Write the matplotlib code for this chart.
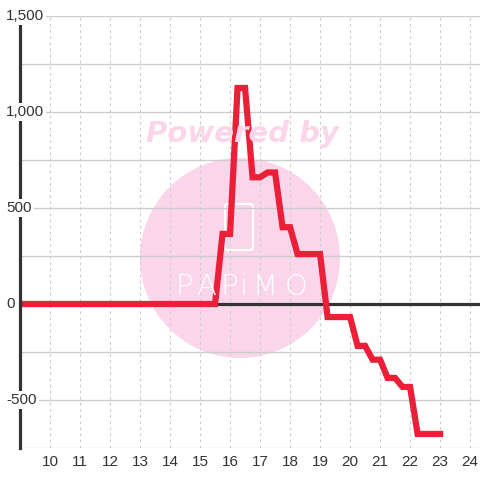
import matplotlib
matplotlib.use("Agg")
import matplotlib.pyplot as plt
from matplotlib.patches import Circle, FancyBboxPatch
from matplotlib.transforms import blended_transform_factory

# breakpoints of the series (hour of day, value)
hours = [9.0, 15.5, 15.75, 16.0, 16.25, 16.5, 16.75, 17.0, 17.25, 17.5, 17.75,
         18.0, 18.25, 19.0, 19.25, 20.0, 20.25, 20.5, 20.75, 21.0, 21.25,
         21.5, 21.75, 22.0, 22.25, 23.0]
values = [0, 0, 365, 365, 1125, 1125, 660, 660, 685, 685, 400,
          400, 260, 260, -68, -68, -218, -218, -290, -290, -385,
          -385, -432, -432, -677, -677]

x_ticks = list(range(10, 25))
y_labels = [1500, 1000, 500, 0, -500]
y_grid = [1250, 750, 250, -250, -750]

LINE_RED = "#ec1f38"
PINK = "#fbd6ea"
DARK = "#333333"

plt.rcParams['font.family'] = ['Liberation Sans', 'DejaVu Sans']

fig = plt.figure(figsize=(4.8, 4.8), dpi=100)
ax = fig.add_axes([20 / 480, 32 / 480, 460 / 480, 432 / 480])
ax.set_xlim(9.0, 24.33)
ax.set_ylim(-750, 1500)

# watermark
circ = Circle((240 / 480, 1 - 258 / 480), 100 / 480, transform=fig.transFigure,
              facecolor=PINK, edgecolor="none", zorder=0.2)
ax.add_patch(circ)
phone = FancyBboxPatch((225 / 480, 1 - 250 / 480), 28 / 480, 46 / 480,
                       boxstyle="round,pad=0,rounding_size=0.006",
                       transform=fig.transFigure, facecolor="none",
                       edgecolor="white", linewidth=1.5, zorder=0.3)
ax.add_patch(phone)
for ch, px in zip("PAPiMO", [184, 206, 229, 244, 265, 296]):
    fig.text(px / 480, 1 - 287 / 480, ch, color="white", fontsize=21,
             family="DejaVu Sans", weight="light", ha="center", va="center",
             zorder=0.3)
fig.text(242 / 480, 1 - 134 / 480, "Powered by", color=PINK, fontsize=21,
         weight="bold", style="italic", ha="center", va="center",
         family="DejaVu Sans", zorder=0.3)

# grid
ax.set_axisbelow(True)
for v in y_labels + y_grid:
    ax.axhline(v, color="#cccccc", linewidth=1, zorder=0.5)
for v in x_ticks:
    ax.axvline(v, color="#cccccc", linewidth=0.8, linestyle=(0, (2.5, 3)), zorder=0.5)
ax.axhline(0, color=DARK, linewidth=2.3, zorder=1)

ax.plot(hours, values, color=LINE_RED, linewidth=4.5, solid_joinstyle="miter",
        solid_capstyle="projecting", zorder=3)

for s in ["top", "right", "bottom"]:
    ax.spines[s].set_visible(False)
ax.spines["left"].set_color(DARK)
ax.spines["left"].set_linewidth(2.3)
ax.spines["left"].set_zorder(4)

ax.set_yticks([])
ax.set_xticks(x_ticks)
ax.set_xticklabels([str(t) for t in x_ticks])
ax.tick_params(axis="x", length=0, pad=5, labelsize=11, labelcolor=DARK)

trans = blended_transform_factory(ax.transAxes, ax.transData)
for v in y_labels:
    ax.text(-14 / 460, v, f"{v:,}", transform=trans, ha="left", va="center",
            fontsize=11, color=DARK, zorder=5, clip_on=False,
            bbox=dict(facecolor="white", edgecolor="none", pad=1.5))

fig.savefig("out.png", dpi=100)
